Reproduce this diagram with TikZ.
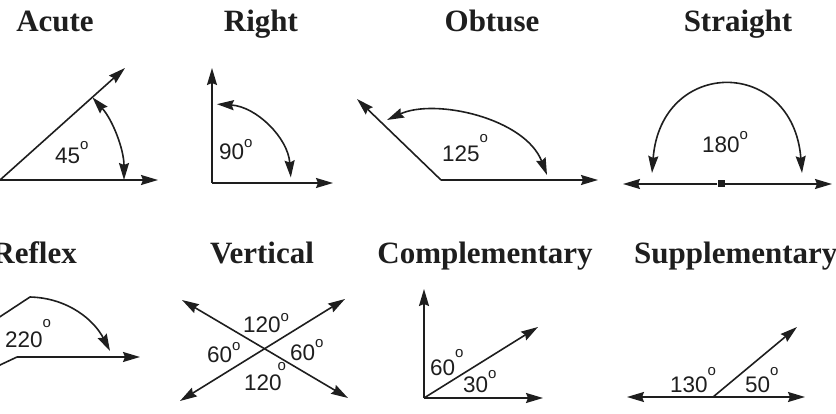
\documentclass[tikz,border=0pt]{standalone}
\usepackage{fontspec}
\usetikzlibrary{arrows.meta}
\newfontfamily\titlefont{Liberation Serif}
\newfontfamily\numfont{Liberation Sans}
\definecolor{ink}{RGB}{30,30,30}
\newcommand{\dego}[1][14pt]{\raisebox{#1}{\fontsize{15}{15}\selectfont o}}
\begin{document}
\begin{tikzpicture}[x=1pt,y=1pt,
  ttl/.style={font=\titlefont\bfseries\fontsize{31}{31}\selectfont, inner sep=0pt, anchor=base, text=ink},
  lbl/.style={font=\numfont\fontsize{22.5}{22.5}\selectfont, inner sep=0pt, anchor=base west, text=ink},
  ln/.style={line width=1.6pt, draw=ink, line join=round},
  tip/.style={{Stealth[length=17pt,width=10pt,inset=2pt]}-{Stealth[length=17pt,width=10pt,inset=2pt]}},
  endtip/.style={-{Stealth[length=17pt,width=10pt,inset=2pt]}}]
\useasboundingbox (0,0) rectangle (836,-414);
\clip (0,0) rectangle (836,-414);
% ---------- titles
\node[ttl] (tAcute) at (55,-32) {Acute};
\node[ttl] (tRight) at (261,-32) {Right};
\node[ttl] (tObtuse) at (492,-32) {Obtuse};
\node[ttl] (tStraight) at (738,-32) {Straight};
\node[ttl,anchor=base east] (tReflex) at (77,-264) {Reflex};
\node[ttl] (tVertical) at (262,-264) {Vertical};
\node[ttl] (tComp) at (485,-264) {Complementary};
\node[ttl,anchor=base west] (tSupp) at (634,-264) {Supplementary};
% ---------- Acute
\coordinate (A) at (0,-180);
\coordinate (Ah) at (158,-180);
\coordinate (Ar) at (125,-68);
\draw[ln,endtip] (A) -- (Ah);
\draw[ln,endtip] (A) -- (Ar);
\draw[ln,tip] ([shift={(0:124)}]A) arc[start angle=0,end angle=41.8,radius=124pt];
\node[lbl] (lA) at (55,-164) {45\dego};
% ---------- Right
\coordinate (R) at (212,-183);
\coordinate (Ru) at (212,-68);
\coordinate (Rh) at (333,-183);
\draw[ln,endtip] (R) -- (Ru);
\draw[ln,endtip] (R) -- (Rh);
\draw[ln,tip] ([shift={(4:79)}]R) arc[start angle=4,end angle=86.5,radius=79pt];
\node[lbl] (lR) at (219,-160) {90\dego[12pt]};
% ---------- Obtuse
\coordinate (O) at (441,-180);
\coordinate (Oh) at (598,-180);
\coordinate (Ol) at (357,-99);
\coordinate (Oa) at (387,-120);
\coordinate (Ob) at (547,-175);
\draw[ln,endtip] (O) -- (Oh);
\draw[ln,endtip] (O) -- (Ol);
\draw[ln,tip] (Oa) .. controls (435,-98) and (525,-118) .. (Ob);
\node[lbl] (lO) at (442,-162) {125\dego[19pt]};
% ---------- Straight
\node[fill=ink,minimum size=7pt,inner sep=0pt] (S0) at (721,-184) {};
\coordinate (Sl) at (623,-184);
\coordinate (Sr) at (832,-184);
\coordinate (Sa) at (652,-173);
\coordinate (Sb) at (802,-173);
\draw[ln,endtip] (S0) -- (Sl);
\draw[ln,endtip] (S0) -- (Sr);
\draw[ln,tip] (Sa) .. controls (661,-57) and (793,-57) .. (Sb);
\node[lbl] (lS) at (702,-153) {180\dego[13pt]};
% ---------- Reflex
\coordinate (F) at (17,-357);
\coordinate (Fr) at (140,-357);
\coordinate (Fl) at (-17,-373);
\coordinate (Fa) at (-8,-322);
\coordinate (Fp) at (30,-297);
\coordinate (Fb) at (110,-351);
\draw[ln,endtip] (F) -- (Fr);
\draw[ln] (F) -- (Fl);
\draw[ln,endtip] (Fa) -- (Fp) .. controls (68,-298) and (94,-320) .. (Fb);
\node[lbl] (lF) at (5,-347) {220\dego[20pt]};
% ---------- Vertical
\coordinate (V1) at (182,-300);
\coordinate (V2) at (348,-398);
\coordinate (V3) at (345,-299);
\coordinate (V4) at (180,-401);
\draw[ln,tip] (V1) -- (V2);
\draw[ln,tip] (V3) -- (V4);
\node[lbl] (lV1) at (243,-333) {120\dego[11pt]};
\node[lbl] (lV2) at (207,-362) {60\dego[12pt]};
\node[lbl] (lV3) at (290,-360) {60\dego[13pt]};
\node[lbl] (lV4) at (244,-390) {120\hspace{-4pt}\dego[20pt]};
% ---------- Complementary
\coordinate (C) at (424,-398);
\coordinate (Cu) at (424,-289);
\coordinate (Ch) at (543,-398);
\coordinate (Cd) at (538,-327);
\draw[ln,endtip] (C) -- (Cu);
\draw[ln,endtip] (C) -- (Ch);
\draw[ln,endtip] (C) -- (Cd);
\node[lbl] (lC1) at (430,-375) {60\dego[18pt]};
\node[lbl] (lC2) at (463,-392) {30\dego[14pt]};
% ---------- Supplementary
\coordinate (P) at (713,-397);
\coordinate (Pl) at (627,-397);
\coordinate (Pr) at (805,-397);
\coordinate (Pd) at (797,-327);
\draw[ln,endtip] (P) -- (Pl);
\draw[ln,endtip] (P) -- (Pr);
\draw[ln,endtip] (P) -- (Pd);
\node[lbl] (lP1) at (670,-392) {130\dego[17pt]};
\node[lbl] (lP2) at (745,-392) {50\dego[17pt]};
\end{tikzpicture}
\end{document}
